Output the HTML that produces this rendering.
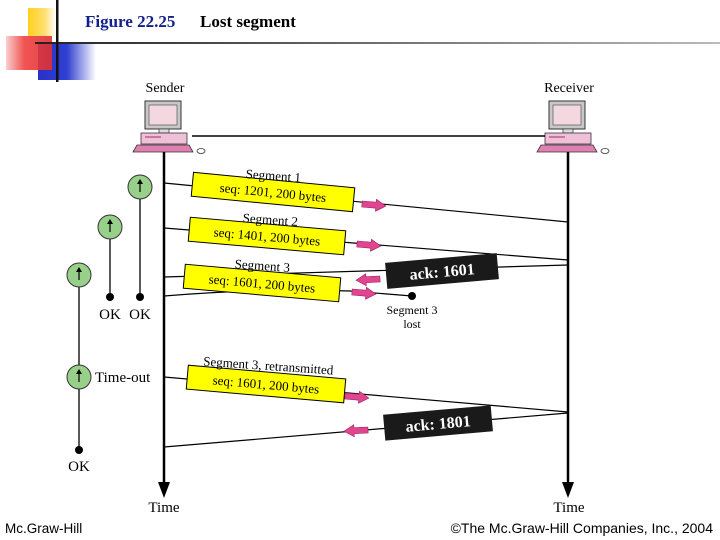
<!DOCTYPE html>
<html><head><meta charset="utf-8"><style>
html,body{margin:0;padding:0;background:#fff;width:720px;height:540px;overflow:hidden}
svg{display:block}
.s{font-family:"Liberation Serif",serif}
</style></head><body>
<svg width="720" height="540" viewBox="0 0 720 540" xmlns="http://www.w3.org/2000/svg">
<defs>
<linearGradient id="red" x1="0" x2="1"><stop offset="0" stop-color="#f8c8c8"/><stop offset="0.4" stop-color="#f04040"/><stop offset="1" stop-color="#e03030"/></linearGradient>
<linearGradient id="blue" x1="0" x2="1"><stop offset="0" stop-color="#2830c8"/><stop offset="0.5" stop-color="#3040d0"/><stop offset="1" stop-color="#ffffff"/></linearGradient>
<linearGradient id="yel" x1="0" x2="1"><stop offset="0" stop-color="#ffd020"/><stop offset="0.6" stop-color="#ffe070"/><stop offset="1" stop-color="#fff"/></linearGradient>
<linearGradient id="hl" x1="0" x2="1"><stop offset="0" stop-color="#222"/><stop offset="1" stop-color="#bbb"/></linearGradient>
<g id="pc">
<rect x="12" y="0" width="36" height="28" fill="#c8c8c8" stroke="#333" stroke-width="1"/>
<rect x="16" y="4" width="28" height="20" fill="#f4d8e0" stroke="#666" stroke-width="0.8"/>
<rect x="26" y="28" width="10" height="4" fill="#ddd" stroke="#333" stroke-width="0.7"/>
<rect x="8" y="32" width="46" height="11" fill="#f0c0d8" stroke="#333" stroke-width="0.8"/>
<line x1="12" y1="36" x2="28" y2="36" stroke="#a03060"/>
<path d="M4 44 L56 44 L60 51 L0 51 Z" fill="#e080b0" stroke="#333" stroke-width="0.8"/>
<ellipse cx="68" cy="50" rx="4" ry="2.5" fill="#fff" stroke="#333" stroke-width="0.8"/>
</g>
<g id="pr"><path d="M0 -3 L14 -3 L14 -6 L24 0 L14 6 L14 3 L0 3 Z" fill="#e0458f" stroke="#a02060" stroke-width="0.6"/></g>
<g id="pl"><path d="M0 -3 L-14 -3 L-14 -6 L-24 0 L-14 6 L-14 3 L0 3 Z" fill="#e0458f" stroke="#a02060" stroke-width="0.6"/></g>
</defs>
<rect x="28" y="8" width="28" height="28" fill="url(#yel)"/>
<rect x="38" y="44" width="58" height="36" fill="url(#blue)"/>
<rect x="6" y="36" width="46" height="34" fill="url(#red)" opacity="0.9"/>
<rect x="35" y="42" width="685" height="2" fill="url(#hl)"/>
<rect x="56" y="0" width="2.5" height="82" fill="#111"/>
<text x="85" y="27" class="s" font-size="17" font-weight="bold" fill="#10208c">Figure 22.25</text>
<text x="200" y="27" class="s" font-size="17" font-weight="bold" fill="#000">Lost segment</text>
<text x="165" y="92" class="s" font-size="14" text-anchor="middle">Sender</text>
<text x="569" y="92" class="s" font-size="14" text-anchor="middle">Receiver</text>
<use href="#pc" x="133" y="101"/>
<use href="#pc" x="537" y="101"/>
<line x1="192" y1="136" x2="545" y2="136" stroke="#000" stroke-width="1.6"/>
<line x1="164" y1="152" x2="164" y2="490" stroke="#000" stroke-width="2.5"/>
<path d="M158 482 L164 498 L170 482 Z" fill="#000"/>
<line x1="568" y1="152" x2="568" y2="490" stroke="#000" stroke-width="2.5"/>
<path d="M562 482 L568 498 L574 482 Z" fill="#000"/>
<text x="164" y="512" class="s" font-size="15" text-anchor="middle">Time</text>
<text x="569" y="512" class="s" font-size="15" text-anchor="middle">Time</text>
<g stroke="#000" stroke-width="1.2" fill="none">
<line x1="164" y1="183" x2="568" y2="222"/>
<line x1="164" y1="228" x2="568" y2="260"/>
<line x1="568" y1="265" x2="164" y2="277"/>
<path d="M164 296 Q260 288 350 291 L412 296"/>
<line x1="164" y1="377" x2="568" y2="412"/>
<line x1="568" y1="413" x2="164" y2="447"/>
</g>
<g class="s" font-size="13">
<g transform="translate(273,192) rotate(5.5)"><rect x="-81" y="-12" width="162" height="24" fill="#ffff00" stroke="#000"/><text y="5" text-anchor="middle">seq: 1201, 200 bytes</text></g>
<text x="273" y="180" text-anchor="middle" transform="rotate(4 273 180)">Segment 1</text>
<g transform="translate(267,236) rotate(5)"><rect x="-78" y="-12" width="156" height="24" fill="#ffff00" stroke="#000"/><text y="5" text-anchor="middle">seq: 1401, 200 bytes</text></g>
<text x="270" y="224" text-anchor="middle" transform="rotate(4 270 224)">Segment 2</text>
<g transform="translate(262,283) rotate(5)"><rect x="-78" y="-12" width="156" height="24" fill="#ffff00" stroke="#000"/><text y="5" text-anchor="middle">seq: 1601, 200 bytes</text></g>
<text x="262" y="270" text-anchor="middle" transform="rotate(4 262 270)">Segment 3</text>
<g transform="translate(266,384) rotate(5)"><rect x="-79" y="-12" width="158" height="24" fill="#ffff00" stroke="#000"/><text y="5" text-anchor="middle">seq: 1601, 200 bytes</text></g>
<text x="268" y="370" text-anchor="middle" transform="rotate(4 268 370)">Segment 3, retransmitted</text>
</g>
<g transform="translate(442,271) rotate(-5)"><rect x="-56" y="-13" width="112" height="26" fill="#1a1a1a"/><text y="6" text-anchor="middle" class="s" font-size="16" font-weight="bold" fill="#fff">ack: 1601</text></g>
<g transform="translate(438,423) rotate(-5)"><rect x="-54" y="-13" width="108" height="26" fill="#1a1a1a"/><text y="6" text-anchor="middle" class="s" font-size="16" font-weight="bold" fill="#fff">ack: 1801</text></g>
<use href="#pr" transform="translate(362,204) rotate(5)"/>
<use href="#pr" transform="translate(357,244) rotate(5)"/>
<use href="#pr" transform="translate(352,292) rotate(5)"/>
<use href="#pl" transform="translate(380,279) rotate(-3)"/>
<use href="#pr" transform="translate(345,396) rotate(5)"/>
<use href="#pl" transform="translate(368,430) rotate(-3)"/>
<circle cx="412" cy="296" r="4" fill="#000"/>
<text x="412" y="314" class="s" font-size="12" text-anchor="middle">Segment 3</text>
<text x="412" y="328" class="s" font-size="12" text-anchor="middle">lost</text>
<g stroke="#000" stroke-width="1.3">
<line x1="140" y1="187" x2="140" y2="297"/>
<line x1="110" y1="227" x2="110" y2="297"/>
<line x1="79" y1="275" x2="79" y2="450"/>
</g>
<g fill="#98d08a" stroke="#333" stroke-width="1">
<circle cx="140" cy="187" r="12"/><circle cx="110" cy="227" r="12"/><circle cx="79" cy="275" r="12"/><circle cx="79" cy="377" r="12"/>
</g>
<g stroke="#000" stroke-width="1.2">
<line x1="140" y1="192" x2="140" y2="181"/><line x1="110" y1="232" x2="110" y2="221"/><line x1="79" y1="280" x2="79" y2="269"/><line x1="79" y1="382" x2="79" y2="371"/>
</g>
<g fill="#000"><path d="M137 184 L140 179 L143 184Z"/><path d="M107 224 L110 219 L113 224Z"/><path d="M76 272 L79 267 L82 272Z"/><path d="M76 374 L79 369 L82 374Z"/>
<circle cx="140" cy="297" r="4"/><circle cx="110" cy="297" r="4"/><circle cx="79" cy="450" r="4"/></g>
<text x="110" y="319" class="s" font-size="15" text-anchor="middle">OK</text>
<text x="140" y="319" class="s" font-size="15" text-anchor="middle">OK</text>
<text x="79" y="471" class="s" font-size="15" text-anchor="middle">OK</text>
<text x="95" y="382" class="s" font-size="15">Time-out</text>
<text x="5" y="533" font-family="Liberation Sans,sans-serif" font-size="13.5">Mc.Graw-Hill</text>
<text x="713" y="533" font-family="Liberation Sans,sans-serif" font-size="14" text-anchor="end">©The Mc.Graw-Hill Companies, Inc., 2004</text>
</svg>
</body></html>
